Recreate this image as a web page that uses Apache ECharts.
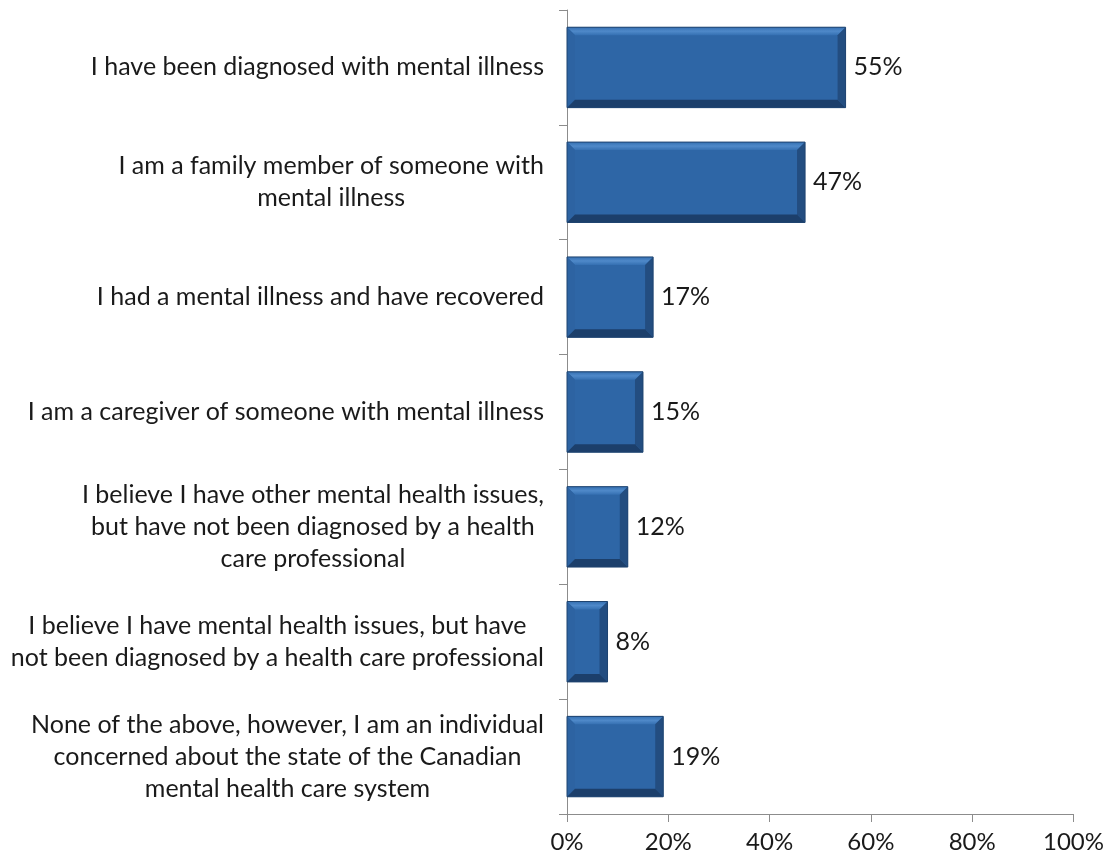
<!DOCTYPE html>
<html>
<head>
<meta charset="utf-8">
<script src="https://cdn.jsdelivr.net/npm/echarts@6/dist/echarts.min.js"></script>
<style>
  html, body { margin: 0; padding: 0; background: #ffffff; }
  #chart { width: 1107px; height: 857px; }
</style>
</head>
<body>
<div id="chart"></div>
<script>
// Survey responses, listed top to bottom
const categories = [
  'I have been diagnosed with mental illness',
  'I am a family member of someone with\nmental illness',
  'I had a mental illness and have recovered',
  'I am a caregiver of someone with mental illness',
  'I believe I have other mental health issues,\nbut have not been diagnosed by a health\ncare professional',
  'I believe I have mental health issues, but have\nnot been diagnosed by a health care professional',
  'None of the above, however, I am an individual\nconcerned about the state of the Canadian\nmental health care system'
];
const values = [55, 47, 17, 15, 12, 8, 19];
const xTicks = [0, 20, 40, 60, 80, 100];

const FONT = 'Lato, "Open Sans", sans-serif';
const TEXT = '#1a1a1a';
const FS = 25;

// Bevelled bar: face plus four edge facets
function renderBevelBar(params, api) {
  const idx = api.value(0);
  const val = api.value(1);
  const start = api.coord([0, idx]);
  const end = api.coord([val, idx]);
  const bandH = api.size([0, 1])[1];
  const h = bandH * 0.7;
  const x0 = start[0], x1 = end[0];
  const y0 = start[1] - h / 2, y1 = start[1] + h / 2;
  const b = Math.min(8, (x1 - x0) / 3);
  const poly = (pts, fill) => ({ type: 'polygon', shape: { points: pts }, style: { fill: fill }, silent: true });
  return {
    type: 'group',
    children: [
      { type: 'rect', shape: { x: x0, y: y0, width: x1 - x0, height: y1 - y0 }, style: { fill: '#2e66a6' } },
      poly([[x0, y0], [x1, y0], [x1 - b, y0 + b], [x0 + b, y0 + b]],
        new echarts.graphic.LinearGradient(0, 0, 0, 1, [
          { offset: 0, color: '#3570b2' }, { offset: 0.5, color: '#4f89c9' }, { offset: 1, color: '#3570b2' }
        ])),
      poly([[x0, y0], [x0 + b, y0 + b], [x0 + b, y1 - b], [x0, y1]], '#2d63a2'),
      poly([[x1, y0], [x1, y1], [x1 - b, y1 - b], [x1 - b, y0 + b]], '#234d80'),
      poly([[x0, y1], [x0 + b, y1 - b], [x1 - b, y1 - b], [x1, y1]], '#1c3f6b'),
      { type: 'rect', shape: { x: x0, y: y0, width: x1 - x0, height: y1 - y0 },
        style: { fill: 'none', stroke: '#1f4470', lineWidth: 1 } }
    ]
  };
}

const chart = echarts.init(document.getElementById('chart'), null, { renderer: 'canvas' });
chart.setOption({
  backgroundColor: '#ffffff',
  animation: false,
  grid: { left: 567, right: 32, top: 10, bottom: 43, containLabel: false },
  xAxis: {
    type: 'value',
    min: 0, max: 100, interval: 20,
    axisLine: { show: true, lineStyle: { color: '#8c8c8c', width: 1 } },
    axisTick: { show: true, length: 8, lineStyle: { color: '#8c8c8c' } },
    splitLine: { show: false },
    axisLabel: {
      margin: 16,
      fontFamily: FONT, fontSize: 24, color: TEXT,
      formatter: v => (xTicks.indexOf(v) >= 0 ? v + '%' : '')
    }
  },
  yAxis: {
    type: 'category',
    data: categories,
    inverse: true,
    axisLine: { show: true, lineStyle: { color: '#8c8c8c', width: 1 } },
    axisTick: { show: true, length: 8, alignWithLabel: false, lineStyle: { color: '#8c8c8c' } },
    axisLabel: {
      margin: 23,
      fontFamily: FONT, fontSize: FS, color: TEXT,
      formatter: v => v.split('\n').map(line => '{c|' + line + '}').join('\n'),
      rich: {
        c: { align: 'center', fontFamily: FONT, fontSize: FS, color: TEXT, lineHeight: 32 }
      }
    }
  },
  series: [{
    type: 'custom',
    renderItem: renderBevelBar,
    encode: { x: 1, y: 0 },
    data: values.map((v, i) => [i, v])
  }, {
    // transparent bars carrying the value labels at the bar ends
    type: 'bar',
    data: values,
    barWidth: '70%',
    itemStyle: { color: 'rgba(0,0,0,0)' },
    silent: true,
    label: {
      show: true,
      position: 'right',
      distance: 8,
      fontFamily: FONT, fontSize: FS, color: TEXT,
      formatter: p => p.value + '%'
    }
  }]
});
</script>
</body>
</html>
